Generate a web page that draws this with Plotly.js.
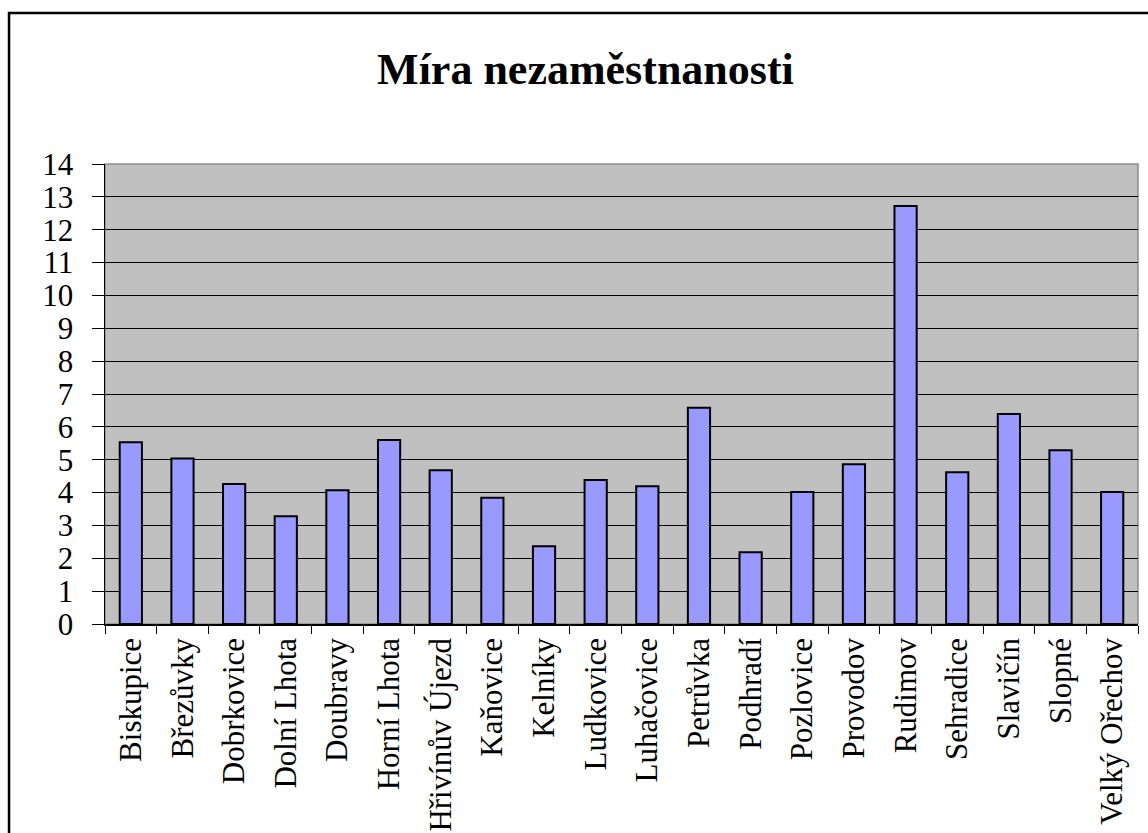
<!DOCTYPE html>
<html>
<head>
<meta charset="utf-8">
<script src="https://cdn.plot.ly/plotly-3.0.1.min.js"></script>
<style>
  html, body { margin: 0; padding: 0; background: #ffffff; }
  #chart { width: 1148px; height: 833px; }
</style>
</head>
<body>
<div id="chart"></div>
<script>
const categories = [
  "Biskupice", "Březůvky", "Dobrkovice", "Dolní Lhota", "Doubravy",
  "Horní Lhota", "Hřivínův Újezd", "Kaňovice", "Kelníky", "Ludkovice",
  "Luhačovice", "Petrůvka", "Podhradí", "Pozlovice", "Provodov",
  "Rudimov", "Sehradice", "Slavičín", "Slopné", "Velký Ořechov"
];
const unemployment = [
  5.53, 5.04, 4.26, 3.28, 4.07,
  5.6, 4.68, 3.84, 2.37, 4.38,
  4.19, 6.58, 2.18, 4.02, 4.86,
  12.72, 4.62, 6.39, 5.29, 4.02
];
const yTicks = [0, 1, 2, 3, 4, 5, 6, 7, 8, 9, 10, 11, 12, 13, 14];
const chartTitle = "Míra nezaměstnanosti";

const serif = "Liberation Serif, Times New Roman, serif";

const trace = {
  type: "bar",
  x: categories,
  y: unemployment,
  width: 0.43,
  marker: { color: "#9999ff", line: { color: "#000000", width: 2 } },
  hoverinfo: "x+y"
};

const layout = {
  width: 1148,
  height: 833,
  margin: { l: 105, r: 10, t: 164, b: 209, pad: 0 },
  paper_bgcolor: "#ffffff",
  plot_bgcolor: "#c0c0c0",
  showlegend: false,
  bargap: 0,
  title: {
    text: "<b>" + chartTitle + "</b>",
    font: { family: serif, size: 44, color: "#000000" },
    x: 0.51, xanchor: "center", xref: "container",
    y: 0.918, yanchor: "middle", yref: "container"
  },
  xaxis: {
    type: "category",
    tickangle: -90,
    tickfont: { family: serif, size: 31, color: "#000000" },
    ticks: "outside",
    tickson: "boundaries",
    ticklen: 8,
    tickcolor: "#000000",
    tickwidth: 1,
    showline: true,
    linecolor: "#000000",
    linewidth: 1.5,
    showgrid: false,
    zeroline: false,
    fixedrange: true
  },
  yaxis: {
    range: [0, 14],
    tickvals: yTicks,
    ticktext: yTicks.map(String),
    tickfont: { family: serif, size: 31, color: "#000000" },
    ticks: "outside",
    ticklen: 12,
    tickcolor: "#000000",
    tickwidth: 1,
    ticklabelstandoff: 12,
    showline: true,
    linecolor: "#000000",
    linewidth: 1.5,
    showgrid: true,
    gridcolor: "#000000",
    gridwidth: 1,
    zeroline: false,
    fixedrange: true
  },
  shapes: [
    {
      type: "rect", xref: "paper", yref: "paper",
      x0: 0, x1: 1, y0: 0, y1: 1,
      line: { color: "#8c8c8c", width: 1.5 },
      fillcolor: "rgba(0,0,0,0)",
      layer: "below"
    },
    {
      type: "rect", xref: "paper", yref: "paper",
      x0: -0.0929, x1: 1.03, y0: -0.5, y1: 1.3285,
      line: { color: "#000000", width: 2.5 },
      fillcolor: "rgba(0,0,0,0)",
      layer: "above"
    }
  ]
};

Plotly.newPlot("chart", [trace], layout, { displayModeBar: false, staticPlot: true });
</script>
</body>
</html>
